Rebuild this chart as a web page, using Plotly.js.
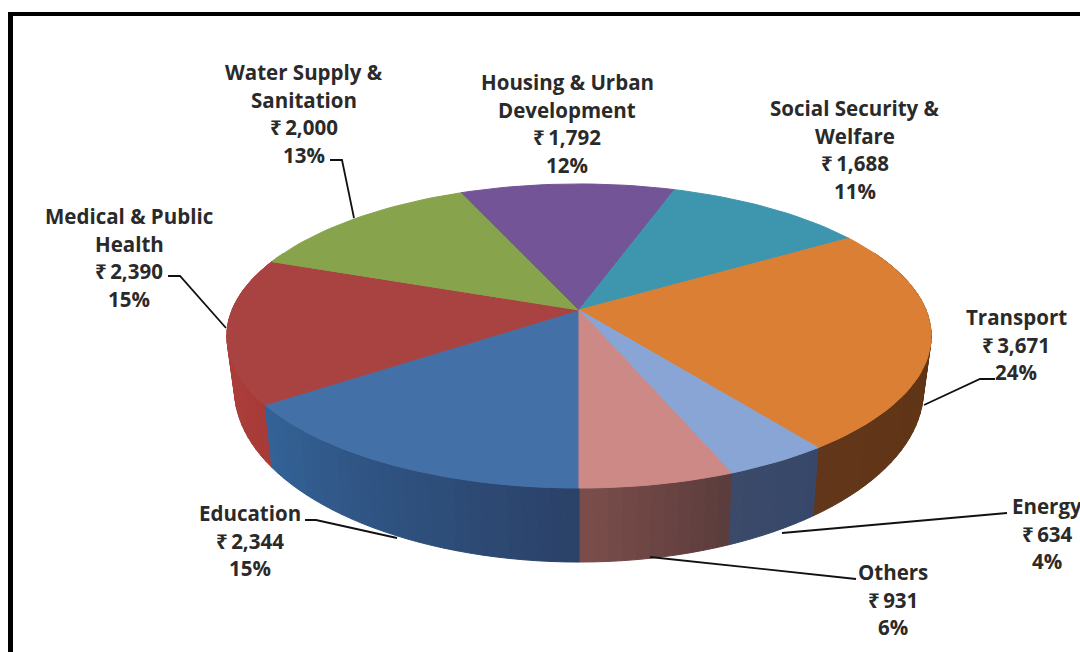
<!DOCTYPE html>
<html>
<head>
<meta charset="utf-8">
<script src="https://cdn.plot.ly/plotly-3.0.1.min.js"></script>
<style>html,body{margin:0;padding:0;background:#fff;overflow:hidden}#chart{width:1080px;height:652px}</style>
</head>
<body>
<div id="chart"></div>
<script>
// Sector spending, clockwise from the front of the pie
const sectors = ["Education", "Medical & Public Health", "Water Supply & Sanitation", "Housing & Urban Development",
                 "Social Security & Welfare", "Transport", "Energy", "Others"];
const amounts = [2344, 2390, 2000, 1792, 1688, 3671, 634, 931];
const labelLines = [["Education"], ["Medical & Public", "Health"], ["Water Supply &", "Sanitation"],
                    ["Housing & Urban", "Development"], ["Social Security &", "Welfare"], ["Transport"], ["Energy"], ["Others"]];

// Slice styling
const topColors = ["#4470a8", "#a94341", "#87a44c", "#735497", "#3e96ae", "#db7f35", "#88a5d5", "#cc8985"];
const sideFrom  = ["#2b4168", "#a83b37", "#87a44c", "#735497", "#3e96ae", "#5c340e", "#37476a", "#5b3c3c"];
const sideTo    = ["#336398", "#b04240", "#6b8238", "#5a4278", "#2f7a90", "#62361a", "#3b4a68", "#7b4e4b"];

// Label placement: block centre and the vertical middle of the first text line
const labelCentreX = [250, 129, 304, 567, 855, 1016, 1047, 893];
const labelTopY    = [513, 216, 72, 82, 108, 317, 506, 572];
const lineStep = 27.6;

// Leader lines from labels to their slices
const leaders = [
  [[305, 520], [316, 520], [397, 538]],
  [[168, 276], [180, 276], [226, 328]],
  [[330, 160], [342, 160], [354, 218]],
  [],
  [],
  [[924, 405], [980, 379], [995, 379]],
  [[782, 533], [1007, 513]],
  [[650, 557], [850, 579], [856, 579]]
];

// Perspective projection of the disc onto the page
const apexX = 579, apexY = 310, spanX = 347, spanY = 147.6, tilt = 0.171;
const thickness = 74, taper = 0.022;

function rim(theta) {
  const X = -Math.sin(theta), Y = Math.cos(theta), den = 1 - tilt * Y;
  return { X, Y, dx: spanX * X / den, dy: spanY * Y / den };
}
const topPoint = t => { const p = rim(t); return [apexX + p.dx, apexY + p.dy]; };
const basePoint = t => {
  const p = rim(t), k = (1 - tilt) / (1 - tilt * p.Y);
  return [apexX + p.dx * (1 - taper), apexY + p.dy + thickness * k * k];
};

function hexMix(a, b, f) {
  const c = h => [1, 3, 5].map(i => parseInt(h.substr(i, 2), 16));
  const A = c(a), B = c(b);
  return "rgb(" + A.map((v, i) => Math.round(v + (B[i] - v) * f)).join(",") + ")";
}

const total = amounts.reduce((s, v) => s + v, 0);
const STEP = 2 * Math.PI / 180;
const polygon = (pts, colour) => ({
  type: "scatter", mode: "lines", x: pts.map(p => p[0]), y: pts.map(p => p[1]),
  fill: "toself", fillcolor: colour, line: { color: colour, width: 1 },
  hoverinfo: "skip", showlegend: false
});

const sideStrips = [], topFaces = [];
let cumulative = 0;
amounts.forEach((v, i) => {
  const a0 = cumulative / total * 2 * Math.PI;
  cumulative += v;
  const a1 = cumulative / total * 2 * Math.PI;
  const n = Math.max(2, Math.ceil((a1 - a0) / STEP));
  const arc = [];
  for (let k = 0; k <= n; k++) arc.push(a0 + (a1 - a0) * k / n);

  topFaces.push(polygon([[apexX, apexY], ...arc.map(topPoint), [apexX, apexY]], topColors[i]));

  for (let k = 0; k < n; k++) {
    if (Math.cos(arc[k]) < -0.4 && Math.cos(arc[k + 1]) < -0.4) continue;
    sideStrips.push({
      depth: Math.cos((arc[k] + arc[k + 1]) / 2),
      trace: polygon([topPoint(arc[k]), topPoint(arc[k + 1]), basePoint(arc[k + 1]), basePoint(arc[k]), topPoint(arc[k])],
                     hexMix(sideFrom[i], sideTo[i], (k + 0.5) / n))
    });
  }
});
sideStrips.sort((p, q) => p.depth - q.depth);

const leaderTraces = leaders.filter(l => l.length).map(l => ({
  type: "scatter", mode: "lines", x: l.map(p => p[0]), y: l.map(p => p[1]),
  line: { color: "#111111", width: 1.8 }, hoverinfo: "skip", showlegend: false
}));

// Each data label is name lines, then the amount, then the share
const rupees = v => "\u20B9\u2009" + v.toLocaleString("en-US");
const annotations = [];
amounts.forEach((v, i) => {
  const lines = [...labelLines[i], rupees(v), Math.round(v / total * 100) + "%"];
  lines.forEach((text, j) => annotations.push({
    x: labelCentreX[i], y: labelTopY[i] + j * lineStep, xref: "x", yref: "y",
    text, showarrow: false, xanchor: "center", yanchor: "middle",
    font: { family: "'Open Sans', 'Noto Sans', 'DejaVu Sans', sans-serif", size: 20.5, color: "#2a2a2a", weight: 700 }
  }));
});

const layout = {
  width: 1080, height: 652,
  margin: { l: 0, r: 0, t: 0, b: 0 },
  paper_bgcolor: "#ffffff", plot_bgcolor: "#ffffff",
  xaxis: { range: [0, 1080], visible: false, fixedrange: true },
  yaxis: { range: [652, 0], visible: false, fixedrange: true },
  showlegend: false, hovermode: false, annotations,
  shapes: [
    { type: "rect", xref: "x", yref: "y", x0: 8, x1: 1080, y0: 12, y1: 16, fillcolor: "#000", line: { width: 0 } },
    { type: "rect", xref: "x", yref: "y", x0: 8, x1: 13, y0: 12, y1: 652, fillcolor: "#000", line: { width: 0 } }
  ]
};

Plotly.newPlot("chart", [...sideStrips.map(s => s.trace), ...topFaces, ...leaderTraces], layout,
               { displayModeBar: false, staticPlot: true });
</script>
</body>
</html>
